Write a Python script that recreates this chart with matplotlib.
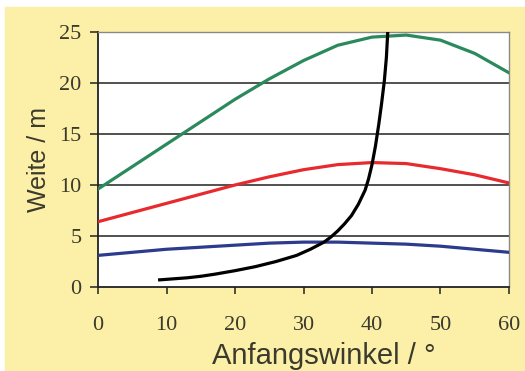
import matplotlib
matplotlib.use("Agg")
import matplotlib.pyplot as plt

# Anfangswinkel in Grad
winkel = [0, 5, 10, 15, 20, 25, 30, 35, 40, 45, 50, 55, 60]
gruen = [9.6, 11.8, 14.0, 16.2, 18.4, 20.4, 22.2, 23.7, 24.5, 24.7, 24.2, 22.9, 21.0]
rot = [6.4, 7.3, 8.2, 9.1, 10.0, 10.8, 11.5, 12.0, 12.2, 12.1, 11.6, 11.0, 10.2]
blau = [3.1, 3.4, 3.7, 3.9, 4.1, 4.3, 4.4, 4.4, 4.3, 4.2, 4.0, 3.7, 3.4]

schwarz_x = [9, 11, 13, 15, 17, 20, 23, 26, 29, 31, 33, 34, 35, 36, 37, 38,
             39, 39.5, 40, 40.5, 41, 41.4, 41.8, 42.1, 42.3]
schwarz_y = [0.7, 0.8, 0.9, 1.05, 1.25, 1.6, 2.0, 2.5, 3.1, 3.7, 4.4, 4.9, 5.5,
             6.2, 7.0, 8.1, 9.5, 10.6, 12.0, 13.8, 16.0, 18.0, 20.2, 22.5, 25.0]

gelb = "#fcefa8"
txt = "#3b3a2c"

fig = plt.figure(figsize=(5.25, 3.71), dpi=100)
fig.patch.set_facecolor("white")
# gelber Hintergrund (oben/links weisser Rand wie im Scan)
bg = plt.Rectangle((5 / 525, 0), 1, 1 - 7 / 371, transform=fig.transFigure,
                   color=gelb, zorder=-5)
fig.add_artist(bg)

ax = fig.add_axes([98 / 525, 1 - 287 / 371, (509 - 98) / 525, (287 - 32) / 371])
ax.set_facecolor("white")

for y in [5, 10, 15, 20, 25]:
    ax.axhline(y, color="#222222", lw=1.1, zorder=1)

ax.plot(winkel, gruen, color="#2a8a5c", lw=2.3, zorder=3)
ax.plot(winkel, rot, color="#e82a2e", lw=2.3, zorder=3)
ax.plot(winkel, blau, color="#2c3b8c", lw=2.3, zorder=3)
ax.plot(schwarz_x, schwarz_y, color="black", lw=2.3, zorder=4)

ax.set_xlim(0, 60)
ax.set_ylim(0, 25)
ax.set_xticks([0, 10, 20, 30, 40, 50, 60])
ax.set_yticks([0, 5, 10, 15, 20, 25])

for s in ["left", "bottom"]:
    ax.spines[s].set_color("#222222")
    ax.spines[s].set_linewidth(1.3)
for s in ["right", "top"]:
    ax.spines[s].set_color("#8a8a80")
    ax.spines[s].set_linewidth(1.0)

ax.tick_params(axis="y", direction="out", length=6, width=1.1, pad=6,
               colors="#222222", labelcolor=txt, labelsize=16)
ax.tick_params(axis="x", direction="out", length=5, width=1.1, pad=16,
               colors="#222222", labelcolor=txt, labelsize=16)
for lab in ax.get_xticklabels() + ax.get_yticklabels():
    lab.set_fontfamily("Liberation Serif")

ax.set_xlabel("Anfangswinkel / °", fontsize=21, color=txt,
              fontfamily="Liberation Sans")
ax.xaxis.set_label_coords(0.55, -0.215)
ax.set_ylabel("Weite / m", fontsize=18, color=txt,
              fontfamily="Liberation Sans", labelpad=6)

fig.savefig("out.png", dpi=100, facecolor=fig.get_facecolor())
